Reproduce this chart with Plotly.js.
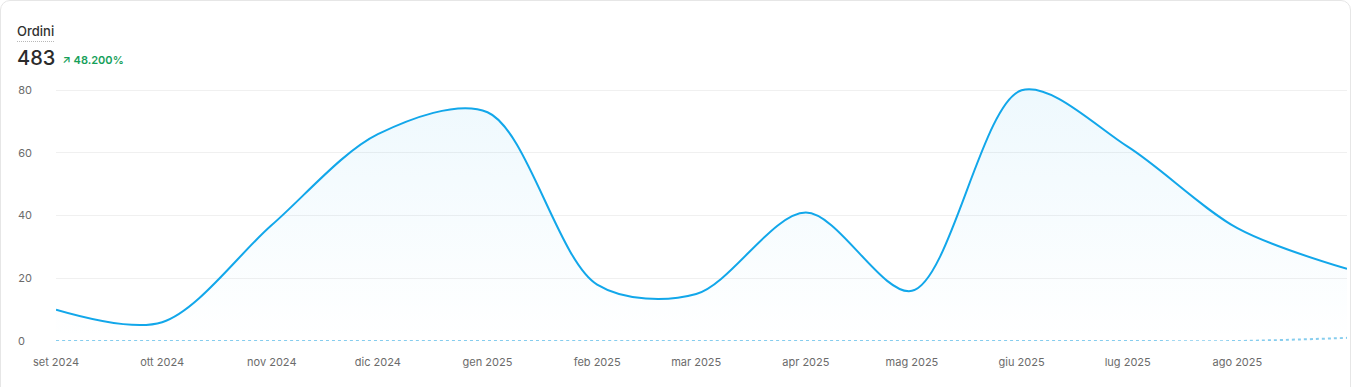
<!DOCTYPE html>
<html>
<head>
<meta charset="utf-8">
<script src="https://cdn.plot.ly/plotly-3.0.1.min.js"></script>
<style>
  html, body { margin: 0; padding: 0; background: #fff; }
  body { width: 1353px; height: 387px; overflow: hidden; font-family: Inter, "Noto Sans", sans-serif; }
  #card { position: absolute; left: 0; top: 0; width: 1351px; height: 400px; border: 1px solid #e6e6e6; border-radius: 10px; box-sizing: border-box; }
  #hdr { position: absolute; left: 17px; top: 20px; z-index: 2; }
  #title { font-size: 13px; font-weight: 500; color: #303030; display: inline-block; padding-bottom: 2px; border-bottom: 1.5px dotted #b8b8b8; line-height: 16px; }
  #kpi { margin-top: 4px; display: flex; align-items: baseline; }
  #val { font-size: 20px; font-weight: 500; color: #2b2b2b; line-height: 24px; }
  #delta { margin-left: 7px; font-size: 11px; font-weight: 600; color: #16a05a; position: relative; top: -1px; }
  #chart { position: absolute; left: 0; top: 0; width: 1353px; height: 387px; }
</style>
</head>
<body>
<div id="card"></div>
<div id="chart"></div>
<div id="hdr">
  <div id="title">Ordini</div>
  <div id="kpi"><span id="val">483</span><span id="delta">↗ 48.200%</span></div>
</div>
<script>
// Data (monthly orders)
const dates = ['2024-09-01','2024-10-01','2024-11-01','2024-12-01','2025-01-01','2025-02-01','2025-03-01','2025-04-01','2025-05-01','2025-06-01','2025-07-01','2025-08-01','2025-09-01'];
const ordini = [10, 6, 37, 66, 73, 18, 15, 41, 16, 80, 62, 36, 23];
const ordiniPrec = [0, 0, 0, 0, 0, 0, 0, 0, 0, 0, 0, 0, 1];
const xTickVals = ['2024-09-01','2024-10-01','2024-11-01','2024-12-01','2025-01-01','2025-02-01','2025-03-01','2025-04-01','2025-05-01','2025-06-01','2025-07-01','2025-08-01'];
const xTickText = ['set 2024','ott 2024','nov 2024','dic 2024','gen 2025','feb 2025','mar 2025','apr 2025','mag 2025','giu 2025','lug 2025','ago 2025'];
const yTickVals = [0, 20, 40, 60, 80];
const yTickText = ['0\u2007', '20', '40', '60', '80'];

const traces = [
  {
    x: dates, y: ordiniPrec, type: 'scatter', mode: 'lines',
    line: { color: '#86cdee', width: 2, dash: 'dot', shape: 'spline', smoothing: 1 },
    hoverinfo: 'skip', showlegend: false
  },
  {
    x: dates, y: ordini, type: 'scatter', mode: 'lines',
    line: { color: '#12a7ea', width: 2, shape: 'spline', smoothing: 0.9 },
    fill: 'tozeroy',
    fillgradient: { type: 'vertical', colorscale: [[0, 'rgba(14,165,233,0.0)'], [1, 'rgba(14,165,233,0.07)']] },
    showlegend: false
  }
];

const layout = {
  width: 1353, height: 387,
  margin: { l: 56, r: 6, t: 84, b: 46 },
  paper_bgcolor: 'rgba(0,0,0,0)', plot_bgcolor: 'rgba(0,0,0,0)',
  font: { family: 'Inter, "Noto Sans", sans-serif', size: 11, color: '#6b6b6b' },
  xaxis: {
    type: 'date', range: ['2024-09-01', '2025-09-01'],
    tickvals: xTickVals, ticktext: xTickText,
    showgrid: false, zeroline: false, showline: false, ticks: '',
    ticklabelstandoff: 13,
    tickfont: { size: 11, color: '#6b6b6b' }
  },
  yaxis: {
    range: [0, 82], tickvals: yTickVals, ticktext: yTickText,
    showgrid: true, gridcolor: '#f0f0f0', gridwidth: 1, zeroline: false, showline: false, ticks: '',
    ticklabelstandoff: 23,
    tickfont: { size: 11, color: '#6b6b6b' }
  },
  showlegend: false
};

Plotly.newPlot('chart', traces, layout, { displayModeBar: false, staticPlot: true });
</script>
</body>
</html>
